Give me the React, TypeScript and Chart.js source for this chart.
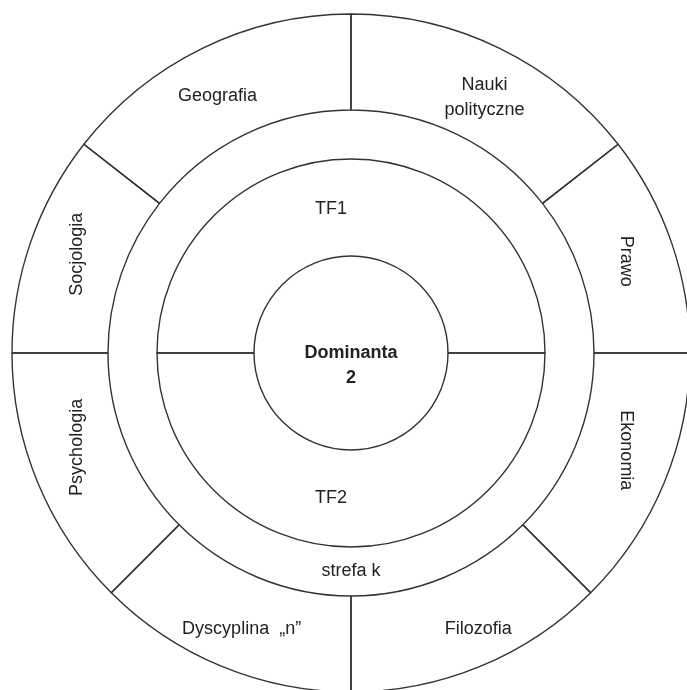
import React, { useEffect, useRef } from "react";
import { Chart, registerables } from "chart.js";

Chart.register(...registerables);

// Outer ring: disciplines (angular span of each sector, degrees, clockwise from top)
const outerLabels: string[][] = [
  ["Nauki", "polityczne"],
  ["Prawo"],
  ["Ekonomia"],
  ["Filozofia"],
  ["Dyscyplina  „n”"],
  ["Psychologia"],
  ["Socjologia"],
  ["Geografia"],
];
const outerSpans = [52, 38, 45, 45, 45, 45, 38, 52];

// Middle ring: zone
const zoneLabels: string[][] = [["strefa k"]];
const zoneSpans = [360];

// Inner ring: TF halves
const tfLabels: string[][] = [["TF1"], ["TF2"]];
const tfSpans = [180, 180];

// Center
const centerLabel = ["Dominanta", "2"];

// Ring thickness weights (outer -> inner)
const ringWeights = [96, 49, 97];

const LINE = "#333333";
const TEXT = "#222222";
const FONT = "'Liberation Sans', Arial, Helvetica, sans-serif";

// fine label nudges (layout only): key "dataset-index"
const labelNudge: Record<string, [number, number]> = {
  "0-0": [6, 6],
  "0-1": [0, 3],
  "0-2": [6, -14],
  "0-3": [16, 7],
  "0-4": [2, 7],
  "0-5": [-5, -17],
  "0-6": [1, -4],
  "0-7": [-6, 5],
  "2-0": [-20, 2],
  "2-1": [-20, 0],
};

const labelPlugin = {
  id: "ringLabels",
  afterDatasetsDraw(chart: any) {
    const ctx: CanvasRenderingContext2D = chart.ctx;
    ctx.save();
    ctx.fillStyle = TEXT;
    ctx.textAlign = "center";
    ctx.textBaseline = "middle";
    ctx.font = `18px ${FONT}`;
    const lineH = 25;
    chart.data.datasets.forEach((ds: any, di: number) => {
      const meta = chart.getDatasetMeta(di);
      meta.data.forEach((el: any, i: number) => {
        const lines: string[] = (ds.texts || [])[i] || [];
        if (!lines.length) return;
        const p = el.tooltipPosition(false);
        const mid = (el.startAngle + el.endAngle) / 2;
        const c = Math.cos(mid);
        let rot = 0;
        if (Math.abs(c) > Math.SQRT1_2) rot = c > 0 ? Math.PI / 2 : -Math.PI / 2;
        const nudge = labelNudge[`${di}-${i}`] || [0, 0];
        ctx.save();
        ctx.translate(p.x + nudge[0], p.y + nudge[1]);
        ctx.rotate(rot);
        const n = lines.length;
        lines.forEach((t, k) => {
          ctx.fillText(t, 0, (k - (n - 1) / 2) * lineH);
        });
        ctx.restore();
      });
    });
    // center text
    const m = chart.getDatasetMeta(chart.data.datasets.length - 1);
    const el = m.data[0];
    if (el) {
      ctx.font = `bold 18px ${FONT}`;
      ctx.fillText(centerLabel[0], el.x, el.y);
      ctx.fillText(centerLabel[1], el.x, el.y + 25);
    }
    ctx.restore();
  },
};

export default function App() {
  const ref = useRef<HTMLCanvasElement | null>(null);

  useEffect(() => {
    if (!ref.current) return;
    const chart = new Chart(ref.current, {
      type: "doughnut",
      data: {
        datasets: [
          {
            data: outerSpans,
            texts: outerLabels,
            weight: ringWeights[0],
            backgroundColor: "rgba(0,0,0,0)",
            borderColor: LINE,
            borderWidth: 1.4,
            rotation: 0,
          } as any,
          {
            data: zoneSpans,
            texts: zoneLabels,
            weight: ringWeights[1],
            backgroundColor: "rgba(0,0,0,0)",
            borderWidth: 0,
            rotation: 0,
          } as any,
          {
            data: tfSpans,
            texts: tfLabels,
            weight: ringWeights[2],
            backgroundColor: "rgba(0,0,0,0)",
            borderColor: LINE,
            borderWidth: 1.4,
            rotation: -90,
          } as any,
        ],
      },
      options: {
        responsive: false,
        animation: false,
        events: [],
        radius: 339,
        cutout: `${(97 / 339) * 100}%`,
        layout: { padding: { left: 12, right: 12, top: 14, bottom: 14 } },
        plugins: {
          legend: { display: false },
          tooltip: { enabled: false },
        },
      } as any,
      plugins: [labelPlugin],
    });
    return () => chart.destroy();
  }, []);

  return (
    <div
      style={{
        position: "fixed",
        left: 0,
        top: 0,
        width: 687,
        height: 690,
        overflow: "hidden",
        background: "#ffffff",
      }}
    >
      <canvas ref={ref} width={702} height={706} style={{ display: "block" }} />
    </div>
  );
}
